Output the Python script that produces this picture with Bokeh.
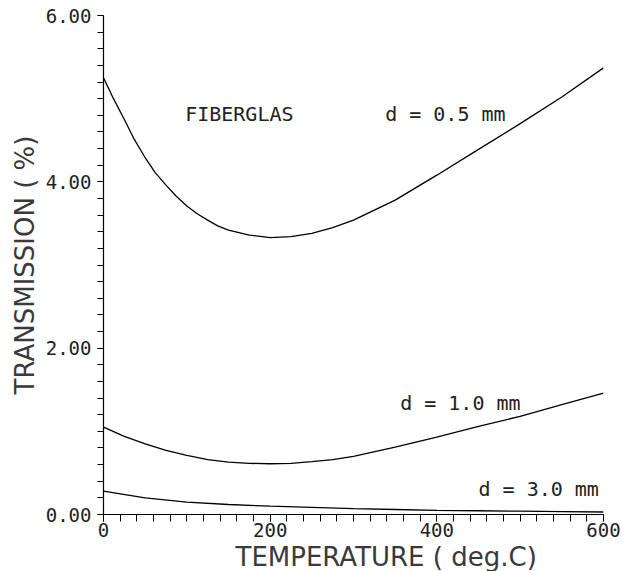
from bokeh.plotting import figure
from bokeh.models import FixedTicker, Label, Title, CustomJSTickFormatter
from bokeh.embed import file_html
from bokeh.resources import INLINE

temp_d05 = [0, 12, 25, 37, 50, 62, 75, 87, 100, 112, 125, 137, 150, 175, 200, 225, 250, 275, 300, 350, 400, 450, 500, 550, 600]
trans_d05 = [5.25, 5.00, 4.75, 4.51, 4.29, 4.11, 3.96, 3.83, 3.71, 3.62, 3.54, 3.47, 3.42, 3.36, 3.33, 3.34, 3.38, 3.45, 3.54, 3.78, 4.08, 4.39, 4.70, 5.02, 5.37]

temp_d10 = [0, 25, 50, 75, 100, 125, 150, 175, 200, 225, 250, 275, 300, 350, 400, 450, 500, 550, 600]
trans_d10 = [1.05, 0.94, 0.85, 0.77, 0.71, 0.66, 0.63, 0.615, 0.61, 0.615, 0.635, 0.66, 0.70, 0.81, 0.93, 1.06, 1.18, 1.32, 1.46]

temp_d30 = [0, 50, 100, 150, 200, 250, 300, 350, 400, 450, 500, 550, 600]
trans_d30 = [0.28, 0.20, 0.15, 0.12, 0.10, 0.085, 0.07, 0.06, 0.05, 0.045, 0.04, 0.035, 0.03]

x_ticks = [0, 200, 400, 600]
y_ticks = [0, 2, 4, 6]

MONO = "DejaVu Sans Mono"
SANS = "DejaVu Sans"

p = figure(width=623, height=571, output_backend="svg", toolbar_location=None,
           x_range=(0, 600), y_range=(0, 6),
           min_border_left=103, min_border_right=20, min_border_top=15, min_border_bottom=2)
p.outline_line_color = None
p.grid.visible = False
p.background_fill_color = "white"

for xs, ys in [(temp_d05, trans_d05), (temp_d10, trans_d10), (temp_d30, trans_d30)]:
    p.line(xs, ys, line_color="black", line_width=1.3)

p.xaxis.ticker = FixedTicker(ticks=x_ticks, minor_ticks=list(range(0, 601, 20)))
p.yaxis.ticker = FixedTicker(ticks=y_ticks, minor_ticks=[round(i * 0.2, 2) for i in range(31)])
p.yaxis.formatter = CustomJSTickFormatter(code="return tick.toFixed(2);")
p.xaxis.formatter = CustomJSTickFormatter(code="return tick.toFixed(0);")

xa = p.xaxis[0]
ya = p.yaxis[0]
for ax in (xa, ya):
    ax.axis_line_color = "black"
    ax.axis_line_width = 1.2
    ax.major_tick_line_color = "black"
    ax.minor_tick_line_color = "black"
    ax.major_tick_line_width = 1
    ax.minor_tick_line_width = 1
    ax.major_tick_in = 0
    ax.minor_tick_in = 0
    ax.major_label_text_font = MONO
    ax.major_label_text_font_size = "19px"
    ax.major_label_text_color = "#222222"
ya.major_tick_out = 6
ya.minor_tick_out = 6
xa.major_tick_out = 7
xa.minor_tick_out = 7
ya.major_label_standoff = 6
xa.major_label_standoff = 1

p.add_layout(Title(text="TEMPERATURE ( deg.C)", text_font=SANS, text_font_size="26px",
                   text_color="#3a3a3a", text_font_style="normal", align="left",
                   offset=132, standoff=0), "below")
p.add_layout(Title(text="TRANSMISSION ( %)", text_font=SANS, text_font_size="26px",
                   text_color="#3a3a3a", text_font_style="normal", align="center",
                   standoff=6), "left")

for tx, ty, txt in [(98, 4.81, "FIBERGLAS"), (338, 4.81, "d = 0.5 mm"),
                    (356, 1.34, "d = 1.0 mm"), (450, 0.31, "d = 3.0 mm")]:
    p.add_layout(Label(x=tx, y=ty, text=txt, text_font=MONO, text_font_size="20px",
                       text_color="#222222", text_align="left", text_baseline="middle"))

open("out.html", "w").write(file_html(p, INLINE))
